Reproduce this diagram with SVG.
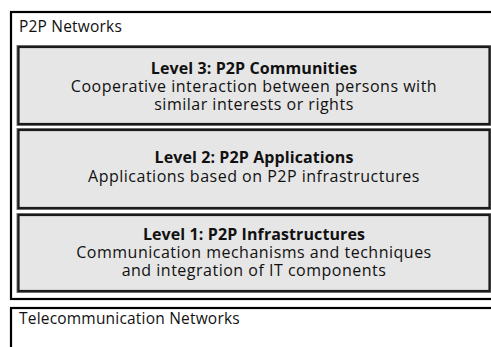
<svg xmlns="http://www.w3.org/2000/svg" width="491" height="347" viewBox="0 0 491 347">
  <style>
    .frame { fill: #ffffff; stroke: #000000; stroke-width: 2.2; }
    .level-halo { fill: none; stroke: #777777; stroke-width: 4; }
    .level { fill: #e6e6e6; stroke: #1a1a1a; stroke-width: 2.2; }
    text { font-family: "Open Sans", "Noto Sans", sans-serif; fill: #111111; }
    .label { font-size: 15.5px; letter-spacing: 0.2px; }
    .title { font-size: 16px; font-weight: bold; text-anchor: middle; letter-spacing: 0.1px; }
    .body { font-size: 16px; text-anchor: middle; letter-spacing: 0.5px; }
  </style>

  <!-- outer container: P2P networks -->
  <g id="p2p-networks">
    <rect class="frame" x="11" y="12" width="490" height="287"/>
    <text class="label" x="19" y="32">P2P Networks</text>
  </g>

  <!-- level 3 -->
  <g id="level-3">
    <rect class="level-halo" x="18.5" y="47" width="471" height="77"/>
    <rect class="level" x="18.5" y="47" width="471" height="77"/>
    <text class="title" x="254" y="74">Level 3: P2P Communities</text>
    <text class="body" x="254" y="92">Cooperative interaction between persons with</text>
    <text class="body" x="254" y="110">similar interests or rights</text>
  </g>

  <!-- level 2 -->
  <g id="level-2">
    <rect class="level-halo" x="18.5" y="130" width="471" height="78"/>
    <rect class="level" x="18.5" y="130" width="471" height="78"/>
    <text class="title" x="254" y="163">Level 2: P2P Applications</text>
    <text class="body" x="254" y="182">Applications based on P2P infrastructures</text>
  </g>

  <!-- level 1 -->
  <g id="level-1">
    <rect class="level-halo" x="18.5" y="215" width="471" height="76"/>
    <rect class="level" x="18.5" y="215" width="471" height="76"/>
    <text class="title" x="254" y="240">Level 1: P2P Infrastructures</text>
    <text class="body" x="254" y="258">Communication mechanisms and techniques</text>
    <text class="body" x="254" y="276">and integration of IT components</text>
  </g>

  <!-- underlying telecommunication networks -->
  <g id="telecommunication-networks">
    <rect class="frame" x="11" y="308" width="490" height="60"/>
    <text class="label" x="19" y="324">Telecommunication Networks</text>
  </g>

  <g id="connectors"/>
</svg>
